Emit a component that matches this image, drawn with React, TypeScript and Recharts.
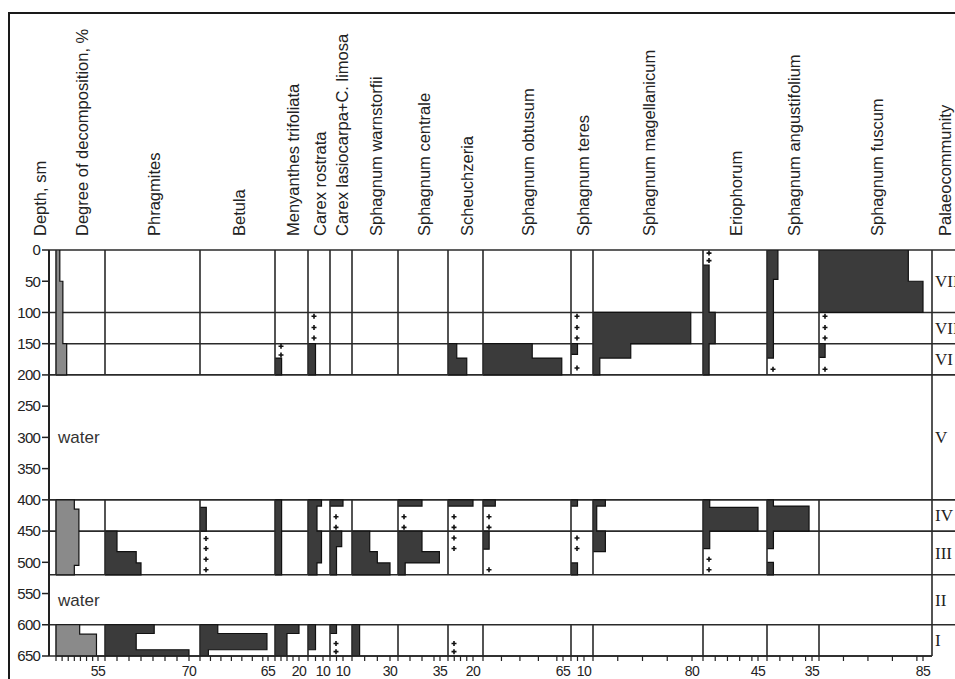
import React from 'react';
import { ComposedChart, Area, Scatter, XAxis, YAxis, ReferenceLine, ReferenceArea } from 'recharts';

// [top depth, bottom depth, value]
type Seg = [number, number, number];

const W = 955;
const H = 679;
const TOP = 250;
const AXIS_H = 23;
const FONT = 'Arial, "Liberation Sans", sans-serif';

const depthTicks = [0, 50, 100, 150, 200, 250, 300, 350, 400, 450, 500, 550, 600, 650];
const zoneLines = [0, 100, 150, 200, 400, 450, 520, 600];
const peatZones: [number, number][] = [[0, 200], [400, 520], [600, 650]];
const waterLayers: [number, number][] = [[200, 400], [520, 600]];
const communityNames = ['VIII', 'VII', 'VI', 'V', 'IV', 'III', 'II', 'I'];
const communityBounds: [number, number][] = [
  [0, 100], [100, 150], [150, 200], [200, 400], [400, 450], [450, 520], [520, 600], [600, 650],
];

// degree of decomposition, %
const dod: Seg[] = [[0, 50, 5], [50, 150, 9], [150, 200, 14], [400, 415, 24], [415, 505, 30], [505, 520, 24], [600, 615, 31], [615, 650, 53]];
const dodTicks = [0, 8, 16, 24, 32, 40, 48, 55];

const phragmites: Seg[] = [[450, 483, 10], [483, 501, 26], [501, 520, 30], [600, 614, 41], [614, 640, 26], [640, 650, 70]];
const phragmitesTicks = [0, 10, 20, 30, 40, 50, 60, 70];

const betula: Seg[] = [[412, 450, 6], [600, 614, 17], [614, 640, 64], [640, 650, 8]];
const betulaPlus = [462, 478, 495, 512];
const betulaTicks = [0, 10, 20, 30, 40, 50, 60, 65];

const menyanthes: Seg[] = [[173, 200, 5.5], [400, 520, 5.5], [600, 614, 20], [614, 650, 10]];
const menyanthesPlus = [154, 168];
const menyanthesTicks = [0, 5, 10, 15, 20];

const carexRostrata: Seg[] = [[150, 200, 5], [400, 410, 9], [410, 450, 6], [450, 501, 9], [501, 520, 6], [600, 640, 5]];
const carexRostrataPlus = [106, 124, 141];
const carexRostrataTicks = [0, 5, 10];

const carexLasiocarpa: Seg[] = [[400, 410, 10], [450, 475, 9], [475, 520, 5], [600, 614, 5]];
const carexLasiocarpaPlus = [427, 444, 630, 643];
const carexLasiocarpaTicks = [0, 5, 10];

const sWarnstorfii: Seg[] = [[450, 483, 14], [483, 501, 20], [501, 520, 30], [600, 650, 6]];
const sWarnstorfiiTicks = [0, 10, 20, 30];

const sCentrale: Seg[] = [[400, 410, 20], [450, 483, 20], [483, 501, 34.5], [501, 520, 6]];
const sCentralePlus = [427, 444];
const sCentraleTicks = [0, 10, 20, 30, 35];

const scheuchzeria: Seg[] = [[150, 173, 7], [173, 200, 15], [400, 410, 20]];
const scheuchzeriaPlus = [427, 444, 461, 478, 630, 643];
const scheuchzeriaTicks = [0, 5, 10, 15, 20];

const sObtusum: Seg[] = [[150, 173, 40], [173, 200, 64], [400, 410, 10], [450, 479, 5]];
const sObtusumPlus = [427, 444, 512];
const sObtusumTicks = [0, 15, 30, 45, 60, 65];

const sTeres: Seg[] = [[150, 167, 5], [400, 410, 5], [501, 520, 5]];
const sTeresPlus = [106, 124, 141, 189, 461, 478];
const sTeresTicks = [0, 5, 10];

const sMagellanicum: Seg[] = [[100, 150, 79], [150, 173, 30.5], [173, 200, 5.5], [400, 410, 10], [410, 450, 3], [450, 483, 10]];
const sMagellanicumTicks = [0, 20, 40, 60, 80];

const eriophorum: Seg[] = [[24, 100, 5], [100, 150, 10], [150, 200, 5], [400, 412, 5.5], [412, 450, 45], [450, 478, 5.5]];
const eriophorumPlus = [5, 17, 495, 512];
const eriophorumTicks = [0, 10, 20, 30, 40, 45];

const sAngustifolium: Seg[] = [[0, 47, 8.5], [47, 173, 5], [400, 410, 5], [410, 450, 32.7], [450, 478, 5], [500, 520, 5]];
const sAngustifoliumPlus = [191];
const sAngustifoliumTicks = [0, 10, 20, 30, 35];

const sFuscum: Seg[] = [[0, 50, 73], [50, 100, 85], [150, 172, 5]];
const sFuscumPlus = [106, 124, 141, 191];
const sFuscumTicks = [0, 20, 40, 60, 80, 85];

type Col = {
  name: string;
  segs: Seg[];
  plus: number[];
  ticks: number[];
  left: number;
  right: number;
  tickX: number;
  fill: string;
};

const DARK = '#3b3b3b';

const columns: Col[] = [
  { name: 'Degree of decomposition, %', segs: dod, plus: [], ticks: dodTicks, left: 56, right: 105, tickX: 98, fill: '#8a8a8a' },
  { name: 'Phragmites', segs: phragmites, plus: [], ticks: phragmitesTicks, left: 105, right: 200, tickX: 189, fill: DARK },
  { name: 'Betula', segs: betula, plus: betulaPlus, ticks: betulaTicks, left: 200, right: 275, tickX: 268, fill: DARK },
  { name: 'Menyanthes trifoliata', segs: menyanthes, plus: menyanthesPlus, ticks: menyanthesTicks, left: 275, right: 308, tickX: 299, fill: DARK },
  { name: 'Carex rostrata', segs: carexRostrata, plus: carexRostrataPlus, ticks: carexRostrataTicks, left: 308, right: 330, tickX: 323, fill: DARK },
  { name: 'Carex lasiocarpa+C. limosa', segs: carexLasiocarpa, plus: carexLasiocarpaPlus, ticks: carexLasiocarpaTicks, left: 330, right: 352, tickX: 343, fill: DARK },
  { name: 'Sphagnum warnstorfii', segs: sWarnstorfii, plus: [], ticks: sWarnstorfiiTicks, left: 352, right: 398, tickX: 390, fill: DARK },
  { name: 'Sphagnum centrale', segs: sCentrale, plus: sCentralePlus, ticks: sCentraleTicks, left: 398, right: 448, tickX: 440, fill: DARK },
  { name: 'Scheuchzeria', segs: scheuchzeria, plus: scheuchzeriaPlus, ticks: scheuchzeriaTicks, left: 448, right: 483, tickX: 473, fill: DARK },
  { name: 'Sphagnum obtusum', segs: sObtusum, plus: sObtusumPlus, ticks: sObtusumTicks, left: 483, right: 571, tickX: 563, fill: DARK },
  { name: 'Sphagnum teres', segs: sTeres, plus: sTeresPlus, ticks: sTeresTicks, left: 571, right: 593, tickX: 584, fill: DARK },
  { name: 'Sphagnum magellanicum', segs: sMagellanicum, plus: [], ticks: sMagellanicumTicks, left: 593, right: 703, tickX: 692, fill: DARK },
  { name: 'Eriophorum', segs: eriophorum, plus: eriophorumPlus, ticks: eriophorumTicks, left: 703, right: 767, tickX: 758, fill: DARK },
  { name: 'Sphagnum angustifolium', segs: sAngustifolium, plus: sAngustifoliumPlus, ticks: sAngustifoliumTicks, left: 767, right: 819, tickX: 812, fill: DARK },
  { name: 'Sphagnum fuscum', segs: sFuscum, plus: sFuscumPlus, ticks: sFuscumTicks, left: 819, right: 932, tickX: 923, fill: DARK },
];

// turn depth intervals into points for a stepBefore area (closed at value 0)
function toSteps(segs: Seg[]) {
  const pts: { depth: number; v: number | null }[] = [];
  let end: number | null = null;
  for (const [top, bottom, val] of segs) {
    if (end !== top) {
      if (end !== null) {
        pts.push({ depth: end, v: 0 });
        pts.push({ depth: end, v: null });
      }
      pts.push({ depth: top, v: 0 });
    }
    pts.push({ depth: top, v: val });
    end = bottom;
  }
  if (end !== null) pts.push({ depth: end, v: 0 });
  return pts;
}

const PlusMark = (p: any) => {
  const x = p.cx + 6;
  const y = p.cy;
  return <path d={`M${x - 2.5},${y}h5M${x},${y - 2.5}v5`} stroke="#111" strokeWidth={1.6} />;
};

const Nothing = () => <g />;

const PAD = 3;

function Column({ c }: { c: Col }) {
  const width = c.right - c.left;
  const label = c.ticks[c.ticks.length - 1];
  const max = (label * width) / (c.tickX - c.left);
  const steps = toSteps(c.segs);
  const plus = c.plus.map((d) => ({ v: 0, depth: d }));
  return (
    <div style={{ position: 'absolute', left: c.left - PAD, top: 0 }}>
      <ComposedChart layout="vertical" width={width + 2 * PAD} height={H} margin={{ top: TOP, right: PAD, bottom: 0, left: PAD }}>
        <XAxis
          type="number"
          dataKey="v"
          domain={[0, max]}
          allowDataOverflow
          ticks={c.ticks}
          interval={0}
          height={AXIS_H}
          tickSize={5}
          axisLine={{ stroke: '#222', strokeWidth: 1.5 }}
          tickLine={{ stroke: '#222', strokeWidth: 1.2 }}
          tick={(p: any) =>
            p.payload.value === label ? (
              <text x={p.x} y={p.y} dy={13} textAnchor="middle" fontSize={14} fill="#222" fontFamily={FONT} letterSpacing={-0.5}>
                {label}
              </text>
            ) : (
              <g />
            )
          }
        />
        <YAxis type="number" dataKey="depth" domain={[0, 650]} allowDataOverflow hide />
        {peatZones.map(([a, b]) => (
          <ReferenceLine key={a} segment={[{ x: 0, y: a }, { x: 0, y: b }]} stroke="#2a2a2a" strokeWidth={1.6} />
        ))}
        <Area
          data={steps}
          dataKey="v"
          type="stepBefore"
          fill={c.fill}
          fillOpacity={1}
          stroke="#111"
          strokeWidth={1.2}
          connectNulls={false}
          dot={false}
          activeDot={false}
          isAnimationActive={false}
        />
        {plus.length > 0 && <Scatter data={plus} dataKey="depth" shape={PlusMark} isAnimationActive={false} />}
      </ComposedChart>
    </div>
  );
}

export default function App() {
  const depthData = depthTicks.map((d) => ({ depth: d, v: 0 }));
  return (
    <div style={{ position: 'absolute', left: 0, top: 0, width: W, height: H, overflow: 'hidden', background: '#fff', fontFamily: FONT }}>
      <div style={{ position: 'absolute', left: 8, top: 12, width: 2000, height: 2000, borderTop: '2px solid #1a1a1a', borderLeft: '2px solid #1a1a1a' }} />

      <svg style={{ position: 'absolute', left: 0, top: 0 }} width={W} height={TOP}>
        <text transform={`translate(40,236) rotate(-90)`} fontSize={16.5} fontFamily={FONT} fill="#222" dominantBaseline="central">
          Depth, sm
        </text>
        {columns.map((c) => (
          <text
            key={c.name}
            transform={`translate(${(c.left + c.right) / 2 + 1},236) rotate(-90)`}
            fontSize={16.5}
            fontFamily={FONT}
            fill="#222"
            dominantBaseline="central"
          >
            {c.name}
          </text>
        ))}
        <text transform={`translate(945,236) rotate(-90)`} fontSize={16.5} fontFamily={FONT} fill="#222" dominantBaseline="central">
          Palaeocommunity
        </text>
      </svg>

      <div style={{ position: 'absolute', left: 0, top: 0 }}>
        <ComposedChart layout="vertical" width={932} height={H} data={depthData} margin={{ top: TOP, right: 0, bottom: AXIS_H, left: 0 }}>
          <XAxis type="number" dataKey="v" domain={[0, 1]} allowDataOverflow hide />
          <YAxis
            type="number"
            dataKey="depth"
            domain={[0, 650]}
            allowDataOverflow
            ticks={depthTicks}
            interval={0}
            width={49}
            tickSize={7}
            tickMargin={2}
            axisLine={{ stroke: '#222', strokeWidth: 2 }}
            tickLine={{ stroke: '#222', strokeWidth: 1.5 }}
            tick={{ fontSize: 15, fill: '#222', fontFamily: FONT, letterSpacing: -0.8 }}
          />
          <Scatter dataKey="depth" shape={Nothing} isAnimationActive={false} />
          {zoneLines.concat([650]).map((d) => (
            <ReferenceLine key={d} y={d} stroke="#2a2a2a" strokeWidth={1.6} />
          ))}
          {waterLayers.map(([a, b]) => (
            <ReferenceArea
              key={a}
              y1={a}
              y2={b}
              fill="none"
              stroke="none"
              label={{ value: 'water', position: 'insideLeft', offset: 9, fontSize: 17, fill: '#333', fontFamily: FONT }}
            />
          ))}
        </ComposedChart>
      </div>

      {columns.map((c) => (
        <Column key={c.name} c={c} />
      ))}

      <div style={{ position: 'absolute', left: 932 - PAD, top: 0 }}>
        <ComposedChart layout="vertical" width={80} height={H} data={depthData} margin={{ top: TOP, right: 0, bottom: AXIS_H, left: PAD }}>
          <XAxis type="number" dataKey="v" domain={[0, 1]} allowDataOverflow hide />
          <YAxis type="number" dataKey="depth" domain={[0, 650]} allowDataOverflow hide />
          <Scatter dataKey="depth" shape={Nothing} isAnimationActive={false} />
          <ReferenceLine x={0} stroke="#2a2a2a" strokeWidth={1.6} />
          {zoneLines.map((d) => (
            <ReferenceLine key={d} y={d} stroke="#2a2a2a" strokeWidth={1.6} />
          ))}
          {communityBounds.map(([a, b], i) => (
            <ReferenceArea
              key={a}
              y1={a}
              y2={b}
              fill="none"
              stroke="none"
              label={{
                value: communityNames[i],
                position: 'insideLeft',
                offset: 3,
                fontSize: 17,
                fill: '#222',
                fontFamily: '"Liberation Serif", "Times New Roman", serif',
              }}
            />
          ))}
        </ComposedChart>
      </div>
    </div>
  );
}
